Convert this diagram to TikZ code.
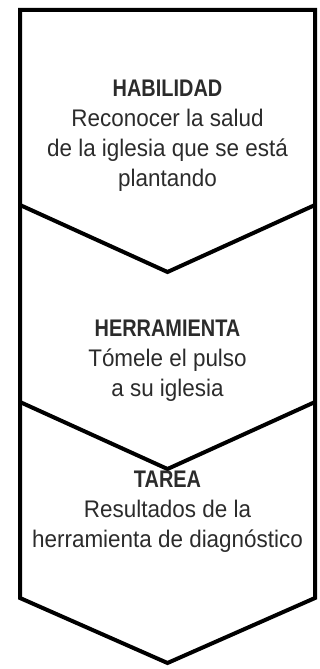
\documentclass[tikz,border=0pt]{standalone}
\usepackage{fontspec}
\setmainfont{Liberation Sans}[FakeStretch=0.935]
\newfontfamily\headfont{Liberation Sans Bold}[FakeStretch=0.83]
\definecolor{txt}{HTML}{2B2B2B}
\begin{document}
\begin{tikzpicture}[x=1pt,y=1pt,
  outline/.style={line width=4pt, line join=miter, draw=black},
  label/.style={align=center, inner sep=0pt, anchor=north, text=txt,
    font=\fontsize{24}{30}\selectfont}]
\useasboundingbox (0,0) rectangle (320,669);
\draw[outline] (20,71) -- (20,659) -- (315,659) -- (315,71) -- (167.5,6) -- cycle;
\draw[outline] (20,464) -- (167.5,397) -- (315,464);
\draw[outline] (20,267) -- (167.5,200) -- (315,267);
\node[label] (hab) at (167.5,589.7) {{\headfont HABILIDAD}\\Reconocer la salud\\de la iglesia que se está\\plantando};
\node[label] (her) at (167.5,349.4) {{\headfont HERRAMIENTA}\\Tómele el pulso\\a su iglesia};
\node[label] (tar) at (167.5,198.4) {{\headfont TAREA}\\Resultados de la\\herramienta de diagnóstico};
\end{tikzpicture}
\end{document}
